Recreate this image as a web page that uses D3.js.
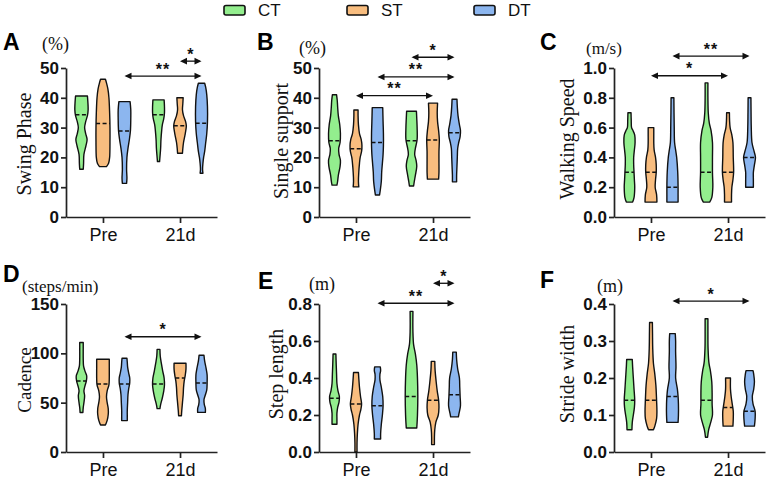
<!DOCTYPE html>
<html>
<head>
<meta charset="utf-8">
<script src="https://cdn.jsdelivr.net/npm/d3@7"></script>
<style>
  body { margin: 0; background: #fff; }
</style>
</head>
<body>
<div id="container"></div>
<script>
// groups, series and colours
const groups = ["Pre", "21d"];
const series = ["CT", "ST", "DT"];
const colors = ["#93ee8e", "#f8bd7f", "#8cb6ef"];

// violin outlines: [value, relative half width]
// order: Pre-CT, Pre-ST, Pre-DT, 21d-CT, 21d-ST, 21d-DT
const swingProfiles = [
  [[16,0.25],[18,0.3],[21,0.35],[24,0.65],[26,0.8],[28,0.6],[30,0.45],[32,0.6],[34,0.85],[36,0.95],[40.6,0.85]],
  [[16.9,0.5],[18,0.8],[20,0.95],[25,1],[30,1],[35,0.95],[40,0.85],[43,0.7],[45,0.5],[46.2,0.35]],
  [[11.3,0.3],[13,0.35],[16,0.3],[20,0.35],[23,0.5],[26,0.7],[29,0.85],[33,0.9],[36,0.9],[38.7,0.8]],
  [[18.6,0.15],[20,0.2],[23,0.3],[26,0.35],[29,0.45],[31,0.55],[33,0.75],[35,0.85],[37,0.85],[39.3,0.8]],
  [[21.4,0.35],[23,0.4],[25,0.5],[28,0.75],[30.5,0.9],[32,0.8],[34,0.5],[36,0.35],[38,0.4],[40,0.45]],
  [[14.7,0.2],[16,0.15],[18,0.2],[20,0.3],[22,0.45],[25,0.6],[28,0.75],[32,0.85],[37,0.85],[41,0.75],[43.5,0.6],[44.9,0.45]]
];
const swingMedians = [34.3, 31.4, 28.9, 34.3, 30.6, 31.5];

const singleProfiles = [
  [[10.7,0.35],[12,0.45],[14,0.55],[17,0.8],[19,0.85],[21,0.65],[23,0.6],[25,0.8],[28,0.85],[31,0.75],[34,0.55],[37,0.45],[39,0.4],[41,0.3]],
  [[10.1,0.4],[12,0.35],[15,0.4],[18,0.5],[20,0.6],[22,0.8],[24,0.85],[26,0.75],[28,0.5],[31,0.35],[34,0.3],[35.9,0.3]],
  [[7.4,0.3],[9,0.4],[12,0.55],[15,0.6],[18,0.7],[21,0.8],[24,0.85],[28,0.85],[32,0.8],[36.7,0.75]],
  [[10.4,0.3],[12,0.4],[14,0.55],[17,0.75],[19,0.65],[21,0.45],[23,0.55],[26,0.8],[30,0.8],[33,0.75],[35.5,0.7]],
  [[12.7,0.8],[15,0.85],[18,0.85],[22,0.85],[26,0.9],[29,0.8],[32,0.65],[35,0.6],[38.2,0.65]],
  [[11.8,0.3],[14,0.3],[17,0.35],[20,0.4],[23,0.45],[25,0.6],[27,0.8],[29,0.85],[31,0.7],[34,0.5],[37,0.4],[39.5,0.35]]
];
const singleMedians = [25.6, 22.9, 25.0, 25.6, 25.8, 28.3];

const speedProfiles = [
  [[0.1,0.45],[0.13,0.65],[0.2,0.75],[0.25,0.7],[0.3,0.65],[0.35,0.6],[0.4,0.6],[0.45,0.7],[0.5,0.8],[0.55,0.75],[0.58,0.5],[0.6,0.3],[0.65,0.25],[0.7,0.22]],
  [[0.1,0.85],[0.15,0.8],[0.2,0.6],[0.25,0.65],[0.3,0.75],[0.35,0.75],[0.4,0.65],[0.45,0.45],[0.5,0.4],[0.55,0.4],[0.6,0.4]],
  [[0.1,0.8],[0.15,0.8],[0.2,0.8],[0.3,0.75],[0.4,0.6],[0.45,0.45],[0.5,0.3],[0.6,0.25],[0.7,0.22],[0.8,0.2]],
  [[0.1,0.45],[0.13,0.75],[0.2,0.9],[0.3,0.85],[0.4,0.85],[0.5,0.85],[0.58,0.65],[0.63,0.4],[0.7,0.25],[0.8,0.2],[0.9,0.2]],
  [[0.1,0.5],[0.15,0.5],[0.2,0.55],[0.25,0.7],[0.3,0.8],[0.4,0.75],[0.5,0.7],[0.55,0.55],[0.6,0.3],[0.65,0.22],[0.7,0.2]],
  [[0.2,0.55],[0.25,0.55],[0.3,0.55],[0.35,0.7],[0.4,0.85],[0.45,0.6],[0.5,0.35],[0.6,0.25],[0.7,0.22],[0.8,0.2]]
];
const speedMedians = [0.3, 0.3, 0.2, 0.3, 0.3, 0.4];

const cadenceProfiles = [
  [[40,0.2],[45,0.25],[50,0.35],[57,0.45],[62,0.35],[67,0.5],[72,0.7],[77,0.75],[82,0.5],[87,0.3],[95,0.25],[105,0.25],[111,0.25]],
  [[27.4,0.35],[32,0.6],[38,0.75],[44,0.75],[50,0.6],[56,0.5],[62,0.6],[68,0.85],[75,0.9],[85,0.9],[94,0.9]],
  [[31.8,0.4],[36,0.4],[42,0.4],[50,0.45],[58,0.5],[64,0.6],[70,0.75],[75,0.75],[80,0.6],[86,0.45],[91,0.4],[95,0.35]],
  [[44,0.2],[48,0.3],[55,0.55],[62,0.75],[68,0.85],[75,0.8],[82,0.6],[90,0.4],[97,0.25],[104,0.2]],
  [[36.8,0.2],[42,0.25],[50,0.35],[58,0.45],[65,0.5],[72,0.6],[78,0.75],[84,0.85],[90,0.85]],
  [[40.2,0.55],[44,0.55],[48,0.4],[53,0.35],[58,0.55],[63,0.75],[70,0.8],[78,0.8],[85,0.65],[92,0.45],[98,0.35]]
];
const cadenceMedians = [72, 69, 69, 69, 75, 70];

const stepProfiles = [
  [[0.15,0.35],[0.18,0.35],[0.21,0.35],[0.24,0.45],[0.27,0.65],[0.3,0.7],[0.33,0.5],[0.37,0.35],[0.42,0.3],[0.47,0.25],[0.53,0.2]],
  [[0.0,0.15],[0.05,0.15],[0.1,0.2],[0.15,0.3],[0.2,0.5],[0.23,0.7],[0.26,0.8],[0.3,0.65],[0.35,0.5],[0.4,0.4],[0.43,0.35]],
  [[0.07,0.45],[0.1,0.45],[0.15,0.55],[0.2,0.7],[0.25,0.8],[0.3,0.75],[0.35,0.55],[0.39,0.35],[0.42,0.35],[0.44,0.45],[0.46,0.4]],
  [[0.13,0.75],[0.16,0.8],[0.2,0.85],[0.3,0.9],[0.4,0.85],[0.47,0.75],[0.53,0.55],[0.58,0.3],[0.65,0.2],[0.76,0.2]],
  [[0.04,0.2],[0.08,0.2],[0.12,0.25],[0.16,0.4],[0.2,0.75],[0.24,0.85],[0.28,0.8],[0.33,0.6],[0.38,0.45],[0.44,0.3],[0.49,0.25]],
  [[0.19,0.55],[0.21,0.65],[0.25,0.85],[0.3,0.8],[0.35,0.75],[0.4,0.7],[0.45,0.45],[0.5,0.3],[0.54,0.25]]
];
const stepMedians = [0.29, 0.26, 0.25, 0.30, 0.28, 0.31];

const strideProfiles = [
  [[0.06,0.35],[0.08,0.4],[0.1,0.55],[0.12,0.7],[0.14,0.75],[0.17,0.65],[0.2,0.55],[0.23,0.45],[0.25,0.4]],
  [[0.06,0.35],[0.07,0.55],[0.09,0.8],[0.11,0.85],[0.14,0.8],[0.18,0.7],[0.21,0.55],[0.24,0.35],[0.28,0.25],[0.32,0.22],[0.35,0.2]],
  [[0.08,0.8],[0.1,0.85],[0.13,0.85],[0.15,0.8],[0.17,0.7],[0.2,0.45],[0.23,0.5],[0.27,0.45],[0.3,0.45],[0.32,0.4]],
  [[0.04,0.15],[0.06,0.3],[0.08,0.6],[0.1,0.85],[0.13,0.8],[0.16,0.8],[0.19,0.75],[0.22,0.55],[0.24,0.35],[0.28,0.22],[0.33,0.2],[0.36,0.2]],
  [[0.07,0.7],[0.09,0.75],[0.11,0.75],[0.13,0.6],[0.15,0.45],[0.17,0.35],[0.2,0.35]],
  [[0.07,0.7],[0.09,0.8],[0.11,0.8],[0.13,0.5],[0.15,0.4],[0.17,0.6],[0.19,0.7],[0.21,0.6],[0.22,0.5]]
];
const strideMedians = [0.14, 0.14, 0.15, 0.14, 0.12, 0.11];

// significance arrows: from [group, series] to [group, series], drawn at a value level
const swingSig = [
  { from: [0, 2], to: [1, 2], level: 47.3, label: "**" },
  { from: [1, 1], to: [1, 2], level: 52.3, label: "*" }
];
const singleSig = [
  { from: [0, 1], to: [1, 1], level: 40.7, label: "**" },
  { from: [0, 2], to: [1, 2], level: 47.0, label: "**" },
  { from: [1, 0], to: [1, 2], level: 53.6, label: "*" }
];
const speedSig = [
  { from: [0, 1], to: [1, 1], level: 0.948, label: "*" },
  { from: [0, 2], to: [1, 2], level: 1.08, label: "**" }
];
const cadenceSig = [
  { from: [0, 2], to: [1, 2], level: 116.8, label: "*" }
];
const stepSig = [
  { from: [0, 2], to: [1, 2], level: 0.804, label: "**" },
  { from: [1, 1], to: [1, 2], level: 0.912, label: "*" }
];
const strideSig = [
  { from: [0, 2], to: [1, 2], level: 0.408, label: "*" }
];

const width = 767, height = 480;
const colX = [66, 319, 614];
const colW = 151;
const rowY = [[217, 68], [452, 304]];

const panels = [
  { letter: "A", unit: "(%)", title: "Swing Phase", domain: [0, 50], step: 10, fmt: d3.format("d"),
    profiles: swingProfiles, medians: swingMedians, sig: swingSig, col: 0, row: 0,
    letterPos: [-63, -18], unitPos: [-24, -18], titlePos: [-41, 144], titleSize: 20, unitSize: 18 },
  { letter: "B", unit: "(%)", title: "Single support", domain: [0, 50], step: 10, fmt: d3.format("d"),
    profiles: singleProfiles, medians: singleMedians, sig: singleSig, col: 1, row: 0,
    letterPos: [-62, -18], unitPos: [-20, -14], titlePos: [-37, 141], titleSize: 20, unitSize: 18 },
  { letter: "C", unit: "(m/s)", title: "Walking Speed", domain: [0, 1], step: 0.2, fmt: d3.format(".1f"),
    profiles: speedProfiles, medians: speedMedians, sig: speedSig, col: 2, row: 0,
    letterPos: [-74, -18], unitPos: [-28, -14], titlePos: [-46, 139], titleSize: 20, unitSize: 17 },
  { letter: "D", unit: "(steps/min)", title: "Cadence", domain: [0, 150], step: 50, fmt: d3.format("d"),
    profiles: cadenceProfiles, medians: cadenceMedians, sig: cadenceSig, col: 0, row: 1,
    letterPos: [-63, -22], unitPos: [-44, -12], titlePos: [-41, 380], titleSize: 19, unitSize: 17 },
  { letter: "E", unit: "(m)", title: "Step length", domain: [0, 0.8], step: 0.2, fmt: d3.format(".1f"),
    profiles: stepProfiles, medians: stepMedians, sig: stepSig, col: 1, row: 1,
    letterPos: [-61, -15], unitPos: [-10, -14], titlePos: [-42, 374], titleSize: 20, unitSize: 18 },
  { letter: "F", unit: "(m)", title: "Stride width", domain: [0, 0.4], step: 0.1, fmt: d3.format(".1f"),
    profiles: strideProfiles, medians: strideMedians, sig: strideSig, col: 2, row: 1,
    letterPos: [-74, -16], unitPos: [-17, -12], titlePos: [-46, 374], titleSize: 20, unitSize: 18 }
];

const svg = d3.select("#container")
  .append("svg")
  .attr("width", width)
  .attr("height", height)
  .style("font-family", "Arial, 'Liberation Sans', sans-serif");

// legend
const legend = svg.append("g").attr("id", "legend");
const legendX = [224, 347, 474];
series.forEach((s, i) => {
  legend.append("rect")
    .attr("x", legendX[i]).attr("y", 5.5)
    .attr("width", 21).attr("height", 9.5)
    .attr("rx", 2)
    .attr("fill", colors[i])
    .attr("stroke", "#111")
    .attr("stroke-width", 1.6);
  legend.append("text")
    .attr("x", legendX[i] + 34).attr("y", 10.5)
    .attr("dy", "0.35em")
    .attr("font-size", "17px")
    .attr("fill", "#111")
    .text(s);
});

const wScale = d3.scaleLinear().domain([0, 1]).range([0, 7]);
const offset = d3.scalePoint().domain(series).range([-21.5, 21.5]);

function drawPanel(p) {
  const x0 = colX[p.col];
  const [yBottom, yTop] = rowY[p.row];
  const g = svg.append("g").attr("class", "panel");

  const y = d3.scaleLinear().domain(p.domain).range([yBottom, yTop]);
  const x = d3.scalePoint().domain(groups).range([x0, x0 + colW]).padding(0.48);

  const ticks = d3.range(p.domain[0], p.domain[1] + p.step / 2, p.step);

  // y axis
  const yAxis = g.append("g")
    .attr("transform", `translate(${x0},0)`)
    .call(d3.axisLeft(y).tickValues(ticks).tickFormat(p.fmt).tickSize(5).tickSizeOuter(0).tickPadding(2));
  yAxis.selectAll("text").attr("font-size", "17px").attr("font-weight", "bold").attr("fill", "#111")
    .style("font-family", "Arial, 'Liberation Sans', sans-serif");

  // x axis
  const xAxis = g.append("g")
    .attr("transform", `translate(0,${yBottom})`)
    .call(d3.axisBottom(x).tickSize(6).tickSizeOuter(0).tickPadding(5));
  xAxis.selectAll("text").attr("font-size", "18px").attr("fill", "#111")
    .style("font-family", "Arial, 'Liberation Sans', sans-serif");

  [yAxis, xAxis].forEach(a => {
    a.select(".domain").attr("stroke", "#222").attr("stroke-width", 1.7);
    a.selectAll(".tick line").attr("stroke", "#222").attr("stroke-width", 1.7);
  });

  // violins
  p.profiles.forEach((prof, k) => {
    const gi = Math.floor(k / 3), si = k % 3;
    const cx = x(groups[gi]) + offset(series[si]);
    const area = d3.area()
      .curve(d3.curveCatmullRom.alpha(0.5))
      .y(d => y(d[0]))
      .x0(d => cx - wScale(d[1]))
      .x1(d => cx + wScale(d[1]));
    g.append("path")
      .datum(prof)
      .attr("d", area)
      .attr("fill", colors[si])
      .attr("stroke", "#111")
      .attr("stroke-width", 1.4)
      .attr("stroke-linejoin", "round");

    const widthAt = d3.scaleLinear().domain(prof.map(d => d[0])).range(prof.map(d => d[1]));
    const m = p.medians[k];
    const hw = wScale(widthAt(m));
    g.append("line")
      .attr("x1", cx - hw).attr("x2", cx + hw)
      .attr("y1", y(m)).attr("y2", y(m))
      .attr("stroke", "#111")
      .attr("stroke-width", 1.5)
      .attr("stroke-dasharray", "4,2.5");
  });

  // significance arrows
  p.sig.forEach(s => {
    const xa = x(groups[s.from[0]]) + offset(series[s.from[1]]);
    const xb = x(groups[s.to[0]]) + offset(series[s.to[1]]);
    const yy = y(s.level);
    const head = 7, hh = 3.3;
    g.append("line")
      .attr("x1", xa + 2).attr("x2", xb - 2)
      .attr("y1", yy).attr("y2", yy)
      .attr("stroke", "#111").attr("stroke-width", 1.3);
    g.append("path")
      .attr("d", `M${xa},${yy}L${xa + head},${yy - hh}L${xa + head},${yy + hh}Z`)
      .attr("fill", "#111");
    g.append("path")
      .attr("d", `M${xb},${yy}L${xb - head},${yy - hh}L${xb - head},${yy + hh}Z`)
      .attr("fill", "#111");
    g.append("text")
      .attr("x", (xa + xb) / 2)
      .attr("y", yy - 1.5)
      .attr("text-anchor", "middle")
      .attr("font-size", "16px")
      .attr("font-weight", "bold")
      .attr("letter-spacing", "1px")
      .attr("fill", "#111")
      .text(s.label);
  });

  // panel letter, unit and axis title
  g.append("text")
    .attr("x", x0 + p.letterPos[0]).attr("y", yTop + p.letterPos[1])
    .attr("font-size", "23px").attr("font-weight", "bold").attr("fill", "#000")
    .text(p.letter);
  g.append("text")
    .attr("x", x0 + p.unitPos[0]).attr("y", yTop + p.unitPos[1])
    .attr("font-size", p.unitSize + "px").attr("fill", "#111")
    .style("font-family", "'Liberation Serif', 'Times New Roman', serif")
    .text(p.unit);
  g.append("text")
    .attr("transform", `translate(${x0 + p.titlePos[0]},${p.titlePos[1]}) rotate(-90)`)
    .attr("text-anchor", "middle")
    .attr("dy", "0.3em")
    .attr("font-size", p.titleSize + "px").attr("fill", "#111")
    .style("font-family", "'Liberation Serif', 'Times New Roman', serif")
    .text(p.title);
}

panels.forEach(drawPanel);
</script>
</body>
</html>
